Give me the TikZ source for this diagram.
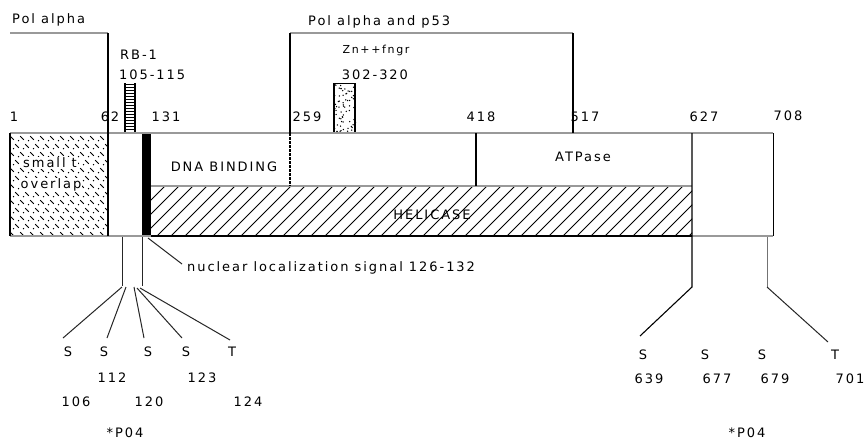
\documentclass[tikz,border=0pt]{standalone}
\usepackage{fontspec}
\setmainfont{DejaVu Sans}[LetterSpace=15]
\usetikzlibrary{calc}
\begin{document}
\begin{tikzpicture}[x=1pt,y=-1pt,
  txt/.style={inner sep=0pt, font=\fontsize{13}{15}\selectfont, text=black},
  smalltxt/.style={inner sep=0pt, font=\fontsize{11}{13}\selectfont, text=black},
  grayline/.style={draw=black!40, line width=1.6pt},
  darkline/.style={draw=black, line width=1.3pt},
  leadline/.style={draw=black!85, line width=1pt},
  hatchline/.style={draw=black, line width=0.9pt},
]
\useasboundingbox[fill=white] (0,0) rectangle (865,445);

% ---------- fills ----------
% small t overlap pattern
\begin{scope}
  \clip (10,133) rectangle (108,236);
  \foreach \i in {0,...,12} {
    \foreach \j in {0,...,9} {
      \pgfmathsetmacro\xx{12+10*\j+5*mod(\i,2)}
      \pgfmathsetmacro\yy{138+8*\i}
      \draw[line width=0.9pt] (\xx-1.8,\yy-1.8) -- (\xx+1.8,\yy+1.8);
      \fill (\xx-3.5,\yy+2.5) circle (0.75pt);
    }
  }
\end{scope}
% helicase hatching
\begin{scope}
  \clip (151,186) rectangle (692,236);
  \foreach \k in {0,...,46} \draw[hatchline] (101+14*\k,236) -- ++(50,-50);
\end{scope}
% NLS bar
\fill[black] (142,133) rectangle (151,236);
% Zn finger box
\pgfmathsetseed{7}
\begin{scope}
  \clip (333,83) rectangle (356,133);
  \foreach \n in {1,...,75} \fill ({333+23*rnd},{83+50*rnd}) circle (0.75pt);
\end{scope}
\draw[black, line width=0.8pt] (333,83) -- (356,83);
\draw[black, line width=2pt] (334,83) -- (334,133) (355,83) -- (355,133);
% RB-1 ladder
\draw[black, line width=1.2pt] (125,83) -- (125,133) (135,83) -- (135,133);
\foreach \y in {84,87,...,132} \draw[black, line width=0.7pt] (125,\y) -- (135,\y);

% ---------- coordinates ----------
\coordinate (tl) at (10,133);  \coordinate (tr) at (773,133);
\coordinate (bl) at (10,236);  \coordinate (br) at (773,236);
\coordinate (pa1) at (10,33);  \coordinate (pa2) at (108,33);
\coordinate (pa3) at (108,236);
\coordinate (pb1) at (290,133); \coordinate (pb2) at (290,33);
\coordinate (pb3) at (573,33);  \coordinate (pb4) at (573,133);
\coordinate (dna1) at (290,186);
\coordinate (mid1) at (151,186); \coordinate (mid2) at (692,186);
\coordinate (h1) at (151,236); \coordinate (h2) at (692,236);
\coordinate (d418a) at (476,133); \coordinate (d418b) at (476,186);

% ---------- outlines ----------
\draw[grayline] (tl) -- (tr);
\draw[grayline] (bl) -- (h1);
\draw[grayline] (h2) -- (br);
\draw[darkline, line width=1.8pt] (h1) -- (h2);
\draw[grayline, line width=1.2pt] (mid1) -- (mid2);
\draw[darkline] (tl) -- (bl);
\draw[darkline, line width=1pt] (tr) -- (br);
\draw[grayline, line width=1.4pt] (pa1) -- (pa2);
\draw[darkline] (pa2) -- (pa3);
\draw[grayline, line width=1.4pt] (pb2) -- (pb3);
\draw[darkline] (pb2) -- (pb1);
\draw[darkline, dash pattern=on 2.5pt off 1.5pt] (pb1) -- (dna1);
\draw[darkline] (pb3) -- (pb4);
\draw[darkline] (d418a) -- (d418b);

% ---------- texts ----------
\node[txt, anchor=west] (tpa) at (12,20) {Pol alpha};
\node[txt, anchor=west] (tpb) at (308,22) {Pol alpha and p53};
\node[txt, anchor=west] (trb) at (120,55) {RB-1};
\node[txt, anchor=west] (trbn) at (119,75) {105-115};
\node[smalltxt] (tzn) at (376,50) {Zn++fngr};
\node[txt] (tznn) at (375,75) {302-320};

\node[txt] (n1) at (14,117) {1};
\node[txt] (n62) at (110,117) {62};
\node[txt] (n131) at (166,117) {131};
\node[txt] (n259) at (307,117) {259};
\node[txt] (n418) at (481,117) {418};
\node[txt] (n517) at (585,117) {517};
\node[txt] (n627) at (704,117) {627};
\node[txt] (n708) at (788,116) {708};

\node[txt, fill=white, inner sep=1pt] (tst) at (50,163) {small t};
\node[txt, fill=white, inner sep=1pt] (tov) at (51,185) {overlap};
\node[txt] (tdna) at (224,167) {DNA BINDING};
\node[txt] (tatp) at (583,157) {ATPase};
\node[txt] (thel) at (432,215) {HELICASE};

\node[txt, anchor=west] (tnls) at (187,268) {nuclear localization signal 126-132};
\coordinate (nlsa) at (148,238);
\coordinate (nlsb) at (182,264);
\draw[leadline] (nlsa) -- (nlsb);

% ---------- left phosphorylation fan ----------
\coordinate (v1a) at (122,237); \coordinate (v1b) at (122,286);
\coordinate (v2a) at (142,237); \coordinate (v2b) at (142,286);
\draw[leadline] (v1a) -- (v1b);
\draw[leadline] (v2a) -- (v2b);
\coordinate (f1) at (122,287); \coordinate (f2) at (126,287);
\coordinate (f3) at (134,287); \coordinate (f4) at (137,288);
\coordinate (f5) at (140,288);
\coordinate (e1) at (63,338); \coordinate (e2) at (107,338);
\coordinate (e3) at (144,338); \coordinate (e4) at (182,338);
\coordinate (e5) at (230,340);
\draw[leadline] (f1) -- (e1);
\draw[leadline] (f2) -- (e2);
\draw[leadline] (f3) -- (e3);
\draw[leadline] (f4) -- (e4);
\draw[leadline] (f5) -- (e5);

\node[txt] (s106) at (68,352) {S};
\node[txt] (s112) at (104,352) {S};
\node[txt] (s120) at (148,352) {S};
\node[txt] (s123) at (186,352) {S};
\node[txt] (t124) at (232,352) {T};
\node[txt] (l112) at (112,378) {112};
\node[txt] (l123) at (202,378) {123};
\node[txt] (l106) at (76,402) {106};
\node[txt] (l120) at (149,402) {120};
\node[txt] (l124) at (248,402) {124};
\node[txt] (p04a) at (125,433) {*P04};

% ---------- right phosphorylation ----------
\coordinate (r1a) at (692,133); \coordinate (r1b) at (692,287);
\coordinate (r1c) at (640,336);
\draw[darkline, line width=1.1pt] (r1a) -- (r1b) -- (r1c);
\coordinate (r2a) at (767,237); \coordinate (r2b) at (767,287);
\coordinate (r2c) at (828,342);
\draw[leadline, draw=black!55] (r2a) -- (r2b);
\draw[leadline] (r2b) -- (r2c);

\node[txt] (s639) at (643,355) {S};
\node[txt] (s677) at (705,355) {S};
\node[txt] (s679) at (762,355) {S};
\node[txt] (t701) at (835,355) {T};
\node[txt] (l639) at (649,379) {639};
\node[txt] (l677) at (717,379) {677};
\node[txt] (l679) at (775,379) {679};
\node[txt] (l701) at (850,379) {701};
\node[txt] (p04b) at (747,433) {*P04};
\end{tikzpicture}
\end{document}
